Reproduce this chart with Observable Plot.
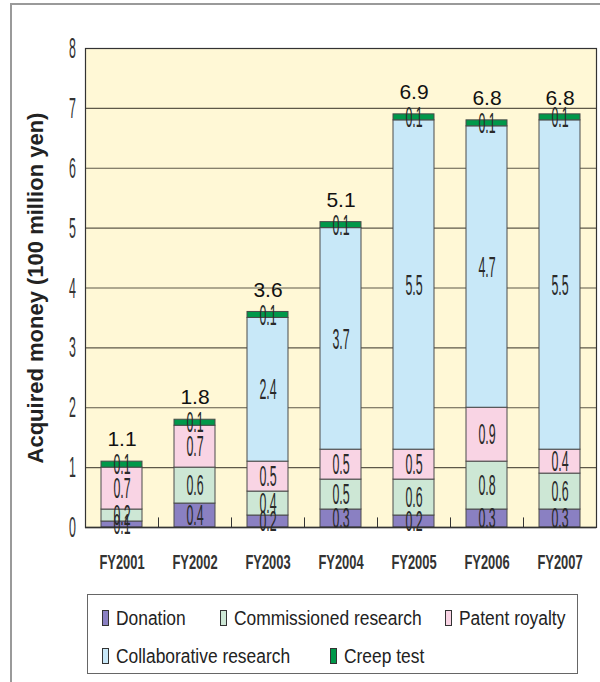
<!DOCTYPE html>
<html>
<head>
<meta charset="utf-8">
<script src="https://cdn.jsdelivr.net/npm/d3@7"></script>
<script src="https://cdn.jsdelivr.net/npm/@observablehq/plot@0.6"></script>
<style>
  html, body { margin: 0; padding: 0; background: #fff; }
  #wrap { position: relative; width: 600px; height: 682px; overflow: hidden; font-family: "Liberation Sans", Arial, sans-serif; }
  #outer { position: absolute; left: 10px; top: 3px; width: 620px; height: 700px; border-left: 2px solid #9a9a9a; border-top: 2px solid #9a9a9a; box-sizing: border-box; }
  #chart { position: absolute; left: 0; top: 0; }
  #legend { position: absolute; left: 87px; top: 594px; width: 491px; height: 80px; border: 1px solid #666; box-sizing: border-box; background: #fff; }
  .item { position: absolute; display: flex; align-items: center; height: 24px; font-size: 20px; color: #222; white-space: nowrap; }
  .sw { width: 5px; height: 14px; border: 1px solid #333; margin-right: 7px; }
  .lbl { display: inline-block; transform: scaleX(0.87); transform-origin: left center; }
</style>
</head>
<body>
<div id="wrap">
  <div id="outer"></div>
  <div id="chart"></div>
  <div id="legend"></div>
</div>
<script>
const years = ["FY2001", "FY2002", "FY2003", "FY2004", "FY2005", "FY2006", "FY2007"];
const categories = ["Donation", "Commissioned research", "Patent royalty", "Collaborative research", "Creep test"];
const donation      = [0.1, 0.4, 0.2, 0.3, 0.2, 0.3, 0.3];
const commissioned  = [0.2, 0.6, 0.4, 0.5, 0.6, 0.8, 0.6];
const patent        = [0.7, 0.7, 0.5, 0.5, 0.5, 0.9, 0.4];
const collaborative = [0.0, 0.0, 2.4, 3.7, 5.5, 4.7, 5.5];
const creep         = [0.1, 0.1, 0.1, 0.1, 0.1, 0.1, 0.1];
const totals        = [1.1, 1.8, 3.6, 5.1, 6.9, 6.8, 6.8];
const yTicks = [0, 1, 2, 3, 4, 5, 6, 7, 8];
const colors = ["#8a80c2", "#cde7d5", "#f9d4e4", "#c8e8f8", "#00984a"];

const series = [donation, commissioned, patent, collaborative, creep];
const rows = [];
years.forEach((yr, i) => {
  let acc = 0;
  series.forEach((s, k) => {
    const v = s[i];
    if (v > 0) {
      rows.push({year: yr, category: categories[k], value: v, y1: acc, y2: acc + v});
      acc += v;
    }
  });
});
const totalRows = years.map((yr, i) => ({year: yr, total: totals[i]}));
const FONT = "Liberation Sans, Arial, sans-serif";

const chart = Plot.plot({
  width: 600,
  height: 600,
  marginLeft: 85,
  marginRight: 4,
  marginTop: 48,
  marginBottom: 73,
  style: {background: "transparent", overflow: "visible", fontFamily: FONT},
  x: {domain: years, paddingInner: 0.44, paddingOuter: 0.22, axis: null},
  y: {domain: [0, 8], axis: null},
  color: {domain: categories, range: colors},
  marks: [
    Plot.frame({fill: "#fff8d6", stroke: null}),
    Plot.ruleY(yTicks.filter(d => d > 0 && d < 8), {stroke: "#5e5849", strokeWidth: 1.2}),
    Plot.ruleX(years.slice(0, -1), {x: d => d, y1: 0, y2: 0.16, dx: 36.5, stroke: "#333"}),
    Plot.barY(rows, {x: "year", y1: "y1", y2: "y2", fill: "category", stroke: "#4a4a4a", strokeWidth: 1}),
    Plot.ruleY([0], {stroke: "#222", strokeWidth: 1.5}),
    Plot.frame({stroke: "#333", strokeWidth: 1.2}),
    // text marks (order matters for post-processing below)
    Plot.text(rows, {x: "year", y: d => (d.y1 + d.y2) / 2, text: d => d.value.toFixed(1), fill: "#2a2a2a", fontSize: 20, fontFamily: FONT}),
    Plot.text(totalRows, {x: "year", y: "total", text: d => d.total.toFixed(1), dy: -22, fontSize: 21, fontFamily: FONT, fill: "#111"}),
    Plot.text(yTicks, {y: d => d, text: d => String(d), frameAnchor: "left", textAnchor: "middle", dx: -13, fontSize: 20, fontFamily: FONT, fill: "#333"}),
    Plot.text(years, {x: d => d, text: d => d, frameAnchor: "bottom", lineAnchor: "middle", dy: 35, fontSize: 17, fontWeight: "bold", fontFamily: FONT, fill: "#333"}),
    Plot.text(["Acquired money (100 million yen)"], {text: d => d, frameAnchor: "left", textAnchor: "middle", dx: -50, rotate: -90, fontSize: 22, fontWeight: "bold", fontFamily: FONT, fill: "#222"})
  ]
});

const textGroups = chart.querySelectorAll('g[aria-label="text"]');
function squeeze(g, sx, sy) {
  if (!g) return;
  g.querySelectorAll("text").forEach(t => {
    let tr = t.getAttribute("transform");
    if (!tr) {
      const x = t.getAttribute("x") || 0, y = t.getAttribute("y") || 0;
      tr = `translate(${x},${y})`;
      t.removeAttribute("x");
      t.removeAttribute("y");
    }
    t.setAttribute("transform", `${tr} scale(${sx},${sy})`);
  });
}
squeeze(textGroups[0], 0.62, 1.5);
squeeze(textGroups[2], 0.62, 1.5);
squeeze(textGroups[3], 0.76, 1.22);
document.getElementById("chart").appendChild(chart);

const legend = document.getElementById("legend");
const pos = [[14, 11], [132, 11], [357, 11], [14, 49], [242, 49]];
categories.forEach((c, k) => {
  const it = document.createElement("div");
  it.className = "item";
  it.style.left = pos[k][0] + "px";
  it.style.top = pos[k][1] + "px";
  const sw = document.createElement("span");
  sw.className = "sw";
  sw.style.background = colors[k];
  const lb = document.createElement("span");
  lb.className = "lbl";
  lb.textContent = c;
  it.appendChild(sw);
  it.appendChild(lb);
  legend.appendChild(it);
});
</script>
</body>
</html>
